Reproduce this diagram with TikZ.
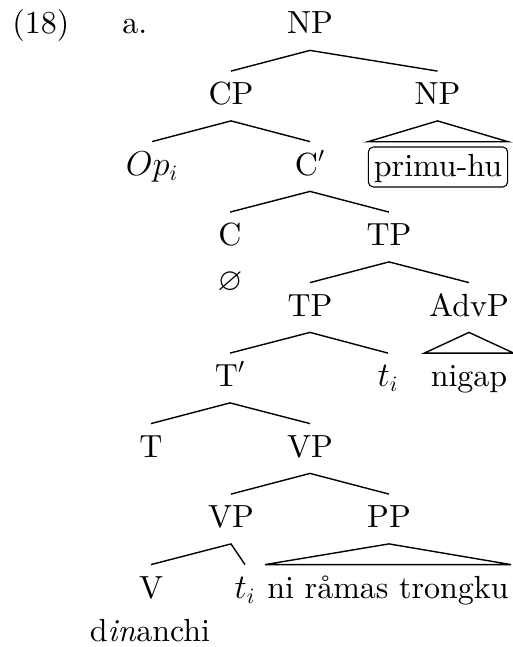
\documentclass[tikz,border=0pt]{standalone}
\usepackage{amssymb}
\usepackage{fontspec}
\setmainfont{lmroman10-regular}[Extension=.otf, ItalicFont=lmroman10-italic]
\begin{document}
\begin{tikzpicture}[x=0.5pt,y=-0.5pt,
  every node/.style={font=\fontsize{16}{19}\selectfont},
  tn/.style={inner sep=0pt, text height=16.5pt, text depth=8pt, anchor=base},
  plain/.style={inner sep=0pt, anchor=base},
  boxed/.style={draw, line width=0.55pt, rounded corners=2.5pt, inner xsep=2.8pt, inner ysep=2pt, text height=12.85pt, text depth=3.15pt, anchor=base},
  br/.style={line width=0.7pt}]
\useasboundingbox (0,0) rectangle (513,647);
% labels
\node[plain, anchor=base west] (ex) at (12,34) {(18)};
\node[plain, anchor=base west] (sub) at (122,34) {a.};
% tree nodes
\node[tn] (np0) at (310,34) {NP};
\node[tn] (cp) at (231,104.5) {CP};
\node[tn] (np1) at (437.5,104.5) {NP};
\node[tn] (op) at (152,175) {$Op_i$};
\node[tn] (cbar) at (310,175) {C$'$};
\node[boxed] (primu) at (438,176.7) {primu-hu};
\node[tn] (c) at (230,245.5) {C};
\node[tn] (tp) at (389,245.5) {TP};
\node[plain] (empty) at (230,290) {$\varnothing$};
\node[tn] (tp2) at (310,316) {TP};
\node[tn] (advp) at (469,316) {AdvP};
\node[tn] (tbar) at (230,386.5) {T$'$};
\node[tn] (ti1) at (388,386.5) {$t_i$};
\node[tn, inner xsep=3pt] (nigap) at (469,386.5) {nigap};
\node[tn] (t) at (151,457) {T};
\node[tn] (vp) at (310,457) {VP};
\node[tn] (vp2) at (231,527.5) {VP};
\node[tn] (pp) at (389,527.5) {PP};
\node[tn] (v) at (151,598) {V};
\node[tn] (ti2) at (245,598) {$t_i$};
\node[tn, inner xsep=1pt] (phrase) at (388,598) {ni råmas trongku};
\node[plain] (din) at (150,641) {d\textit{in}anchi};
% branches
\draw[br] (cp.north) -- (np0.south) -- (np1.north);
\draw[br] (op.north) -- (cp.south) -- (cbar.north);
\draw[br] (np1.south) -- ([yshift=2.35pt]primu.north west) -- ([yshift=2.35pt]primu.north east) -- cycle;
\draw[br] (c.north) -- (cbar.south) -- (tp.north);
\draw[br] (tp2.north) -- (tp.south) -- (advp.north);
\draw[br] (advp.south) -- (nigap.north west) -- (nigap.north east) -- cycle;
\draw[br] (tbar.north) -- (tp2.south) -- (ti1.north);
\draw[br] (t.north) -- (tbar.south) -- (vp.north);
\draw[br] (vp2.north) -- (vp.south) -- (pp.north);
\draw[br] (v.north) -- (vp2.south) -- (ti2.north);
\draw[br] (pp.south) -- (phrase.north west) -- (phrase.north east) -- cycle;
\end{tikzpicture}
\end{document}
